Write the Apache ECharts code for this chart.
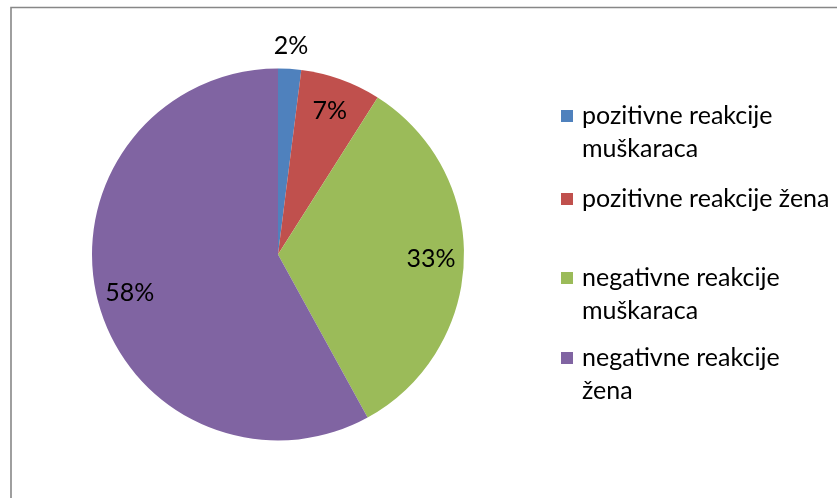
<!DOCTYPE html>
<html>
<head>
<meta charset="utf-8">
<script src="https://cdn.jsdelivr.net/npm/echarts@6/dist/echarts.min.js"></script>
<style>
  html, body { margin: 0; padding: 0; background: #fff; }
  #chart { width: 837px; height: 498px; }
</style>
</head>
<body>
<div id="chart"></div>
<script>
// Reactions by group (share of all reactions)
const categories = [
  'pozitivne reakcije muškaraca',
  'pozitivne reakcije žena',
  'negativne reakcije muškaraca',
  'negativne reakcije žena'
];
const values = [2, 7, 33, 58];
const colors = ['#4F81BD', '#C0504D', '#9BBB59', '#8064A2'];
// legend captions, broken into lines the way the legend box wraps them
const legendLabels = [
  'pozitivne reakcije\nmuškaraca',
  'pozitivne reakcije žena',
  'negativne reakcije\nmuškaraca',
  'negativne reakcije\nžena'
];

const FONT = 'Lato';
const center = [278, 254.5];
const R = 186;
const LINE_H = 33;

const pieData = categories.map((name, i) => ({ name, value: values[i] }));

const labelText = p => Math.round(p.percent) + '%';
const labelStyle = { color: '#000', fontFamily: FONT, fontSize: 25 };

// Legend swatch: a 12px square at the top-left of the icon box, so the
// square lines up with the first text line and the caption starts 21px right.
function swatchIcon(lines) {
  const h = 12 + (lines - 1) * LINE_H;
  return { icon: 'path://M0,0h12v12h-12zM16,' + h + 'h0.01', w: 16, h: h };
}

// One legend component per entry so the vertical spacing follows the layout
const swatchCenters = [116, 199, 278, 358];
const legends = categories.map((name, i) => {
  const lines = legendLabels[i].split('\n').length;
  const sw = swatchIcon(lines);
  return {
    data: [name],
    orient: 'vertical',
    left: 561,
    top: swatchCenters[i] - LINE_H / 2,
    padding: 0,
    icon: sw.icon,
    itemWidth: sw.w,
    itemHeight: sw.h,
    itemGap: 0,
    selectedMode: false,
    itemStyle: { borderWidth: 0 },
    formatter: () => legendLabels[i],
    textStyle: {
      color: '#000',
      fontFamily: FONT,
      fontSize: 25,
      lineHeight: LINE_H
    }
  };
});

const chart = echarts.init(document.getElementById('chart'), null, { renderer: 'canvas' });
chart.setOption({
  animation: false,
  color: colors,
  graphic: [{
    type: 'rect',
    shape: { x: 11, y: 7.5, width: 900, height: 600 },
    style: { fill: 'none', stroke: '#878787', lineWidth: 1.6 },
    silent: true
  }],
  legend: legends,
  series: [
    {
      // the slices themselves
      type: 'pie',
      center: center,
      radius: [0, R],
      startAngle: 90,
      clockwise: true,
      data: pieData,
      itemStyle: { borderWidth: 0 },
      label: { show: false },
      labelLine: { show: false },
      emphasis: { disabled: true }
    },
    {
      // percentage labels placed inside the larger slices
      type: 'pie',
      center: center,
      radius: [114, R],
      startAngle: 90,
      silent: true,
      legendHoverLink: false,
      avoidLabelOverlap: false,
      data: pieData,
      itemStyle: { color: 'rgba(0,0,0,0)', borderWidth: 0 },
      label: {
        show: true,
        position: 'inside',
        formatter: p => (p.percent < 5 ? '' : labelText(p)),
        ...labelStyle
      },
      labelLine: { show: false },
      emphasis: { disabled: true }
    },
    {
      // label for the thin slice, just outside the rim
      type: 'pie',
      center: center,
      radius: [198, 214],
      startAngle: 90,
      silent: true,
      legendHoverLink: false,
      avoidLabelOverlap: false,
      data: pieData,
      itemStyle: { color: 'rgba(0,0,0,0)', borderWidth: 0 },
      label: {
        show: true,
        position: 'inside',
        formatter: p => (p.percent < 5 ? labelText(p) : ''),
        ...labelStyle
      },
      labelLine: { show: false },
      emphasis: { disabled: true }
    }
  ]
});
</script>
</body>
</html>
